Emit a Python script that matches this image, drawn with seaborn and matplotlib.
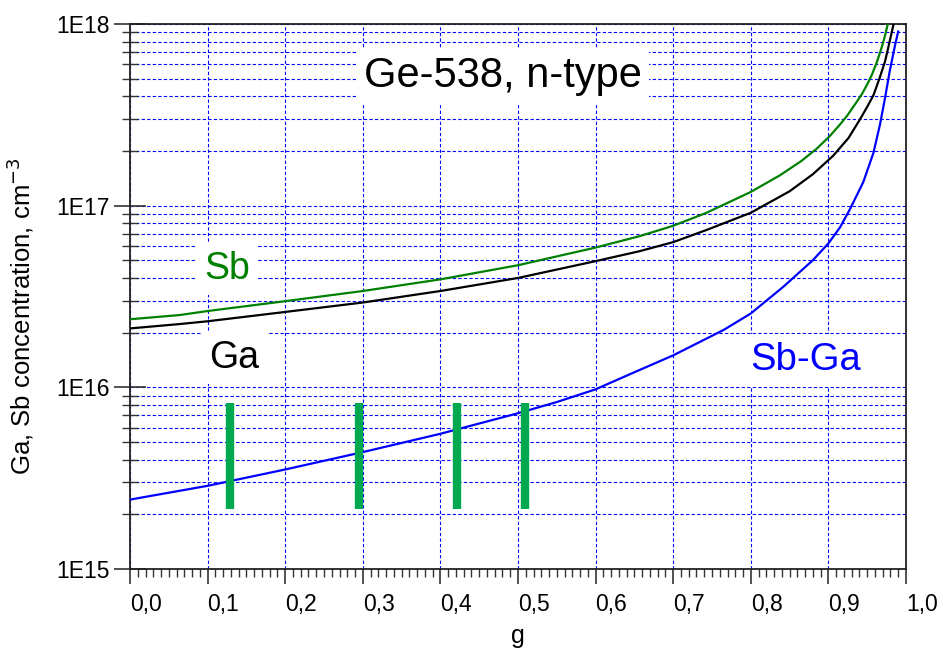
import numpy as np
import pandas as pd
import matplotlib
matplotlib.use("Agg")
import matplotlib.pyplot as plt
from matplotlib.ticker import LogLocator, MultipleLocator, FuncFormatter, NullFormatter
import seaborn as sns

# Solidified fraction g and concentrations (cm^-3)
g_sb = [0.0, 0.064, 0.10, 0.20, 0.30, 0.40, 0.50, 0.60, 0.657, 0.70, 0.743,
        0.80, 0.8376, 0.865, 0.885, 0.902, 0.915, 0.924, 0.935, 0.943, 0.950,
        0.956, 0.962, 0.967, 0.971, 0.974, 0.9765]
sb_conc = [2.37e16, 2.50e16, 2.63e16, 2.98e16, 3.39e16, 3.93e16, 4.70e16, 5.88e16,
           6.80e16, 7.75e16, 9.14e16, 1.19e17, 1.47e17, 1.76e17, 2.06e17, 2.42e17,
           2.80e17, 3.12e17, 3.65e17, 4.10e17, 4.65e17, 5.25e17, 6.10e17, 7.05e17,
           8.03e17, 9.00e17, 1.0e18]

g_ga = [0.0, 0.064, 0.10, 0.20, 0.30, 0.40, 0.50, 0.60, 0.657, 0.70, 0.743,
        0.80, 0.85, 0.88, 0.906, 0.926, 0.941, 0.950, 0.958, 0.966, 0.973,
        0.979, 0.984]
ga_conc = [2.11e16, 2.23e16, 2.31e16, 2.60e16, 2.93e16, 3.39e16, 4.00e16, 4.95e16,
           5.62e16, 6.30e16, 7.35e16, 9.14e16, 1.20e17, 1.49e17, 1.88e17, 2.36e17,
           3.00e17, 3.50e17, 4.05e17, 5.04e17, 6.23e17, 8.03e17, 1.0e18]

g_diff = [0.0, 0.10, 0.20, 0.30, 0.40, 0.50, 0.55, 0.60, 0.644, 0.70, 0.765,
          0.80, 0.842, 0.88, 0.90, 0.915, 0.928, 0.945, 0.958, 0.9665, 0.973,
          0.979, 0.986, 0.990]
diff_conc = [2.41e15, 2.87e15, 3.53e15, 4.40e15, 5.55e15, 7.2e15, 8.3e15, 9.75e15,
             1.18e16, 1.50e16, 2.07e16, 2.55e16, 3.58e16, 5.01e16, 6.2e16, 7.6e16,
             9.6e16, 1.35e17, 1.95e17, 2.80e17, 3.92e17, 5.49e17, 7.69e17, 9.12e17]

# Sample positions marked along the crystal
sample_g = [0.129, 0.295, 0.421, 0.509]
sample_lo, sample_hi = 2.15e15, 8.2e15

x_ticks = [0.0, 0.1, 0.2, 0.3, 0.4, 0.5, 0.6, 0.7, 0.8, 0.9, 1.0]

sns.set_style("white")
plt.rcParams["font.family"] = ["Liberation Sans", "DejaVu Sans"]
plt.rcParams["text.color"] = "black"
plt.rcParams["axes.labelcolor"] = "black"

df = pd.concat([
    pd.DataFrame({"g": g_sb, "c": sb_conc, "s": "Sb"}),
    pd.DataFrame({"g": g_ga, "c": ga_conc, "s": "Ga"}),
    pd.DataFrame({"g": g_diff, "c": diff_conc, "s": "Sb-Ga"}),
], ignore_index=True)

fig = plt.figure(figsize=(9.43, 6.53), dpi=100)
ax = fig.add_axes([130 / 943, 1 - 569 / 653, 776 / 943, 545 / 653])

palette = {"Sb": "#008000", "Ga": "black", "Sb-Ga": "#0000FF"}
sns.lineplot(data=df, x="g", y="c", hue="s", palette=palette, estimator=None,
             sort=False, linewidth=1.6, legend=False, ax=ax, zorder=4)

for gx in sample_g:
    ax.plot([gx, gx], [sample_lo, sample_hi], color="#00A84F", linewidth=6,
            solid_capstyle="butt", zorder=5)

ax.set_yscale("log")
ax.set_xlim(0, 1.0)
ax.set_ylim(1e15, 1e18)

ax.yaxis.set_major_locator(LogLocator(base=10, numticks=10))
ax.yaxis.set_minor_locator(LogLocator(base=10, subs=np.arange(2, 10), numticks=20))
ax.yaxis.set_major_formatter(FuncFormatter(lambda v, _: f"1E{int(round(np.log10(v)))}"))
ax.yaxis.set_minor_formatter(NullFormatter())

ax.set_xticks(x_ticks)
ax.set_xticklabels([f"{v:.1f}".replace(".", ",") for v in x_ticks], ha="left")
ax.xaxis.set_minor_locator(MultipleLocator(0.01))

ax.tick_params(axis="y", which="major", direction="inout", length=23, width=1.2,
               labelsize=16.5, pad=3, colors="#333333", labelcolor="black")
ax.tick_params(axis="y", which="minor", direction="inout", length=11, width=1.0,
               colors="#333333")
ax.tick_params(axis="x", which="major", direction="out", length=11, width=1.2,
               labelsize=16.5, pad=6, colors="#333333", labelcolor="black")
ax.tick_params(axis="x", which="minor", direction="out", length=6, width=1.0,
               colors="#333333")
ax.tick_params(left=True, bottom=True, right=False, top=False, which="both")

ax.grid(True, which="major", axis="both", color="#0000FF", linestyle=(0, (3, 2)),
        linewidth=0.8, zorder=1)
ax.grid(True, which="minor", axis="y", color="#0000FF", linestyle=(0, (3, 2)),
        linewidth=0.8, zorder=1)
ax.set_axisbelow(True)

for side in ["left", "bottom", "right", "top"]:
    ax.spines[side].set_visible(True)
    ax.spines[side].set_color("#222222")
    ax.spines[side].set_linewidth(1.3)

ax.set_xlabel("g", fontsize=18, labelpad=6, color="black")
ax.set_ylabel("Ga, Sb concentration, cm$^{-3}$", fontsize=18.5, color="black")
ax.yaxis.set_label_coords(-0.121, 0.464)

box = dict(facecolor="white", edgecolor="none", pad=6)
ax.text(0.48, 5.2e17, "Ge-538, n-type", fontsize=30, color="black", ha="center",
        va="center", bbox=dict(facecolor="white", edgecolor="none", pad=5), zorder=3)
ax.text(0.125, 4.5e16, "Sb", fontsize=27, color="#008000", ha="center", va="center",
        bbox=box, zorder=3)
ax.text(0.134, 1.45e16, "Ga", fontsize=27, color="black", ha="center", va="center",
        bbox=box, zorder=3)
ax.text(0.871, 1.41e16, "Sb-Ga", fontsize=27.5, color="#0000FF", ha="center", va="center",
        bbox=box, zorder=3)

fig.savefig("out.png", dpi=100)
